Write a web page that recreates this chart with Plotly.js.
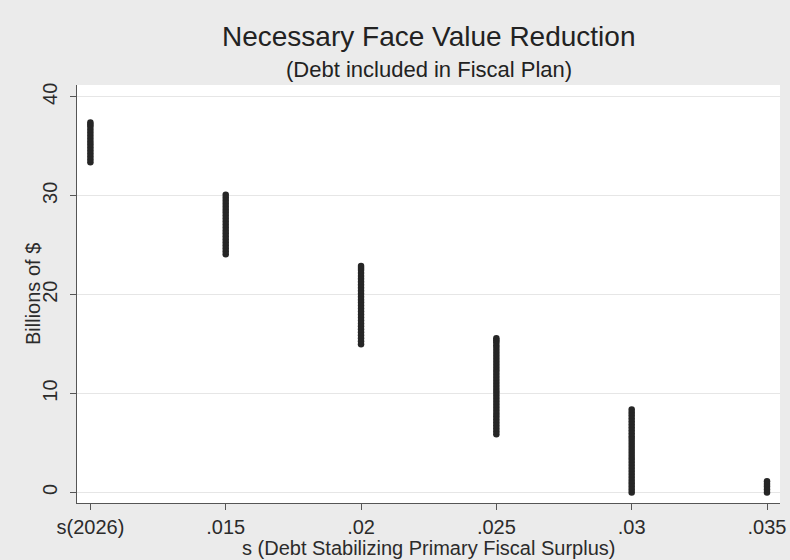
<!DOCTYPE html>
<html>
<head>
<meta charset="utf-8">
<script src="https://cdn.plot.ly/plotly-3.0.1.min.js"></script>
<style>html,body{margin:0;padding:0;background:#ebebeb;}#chart{width:790px;height:560px;}</style>
</head>
<body>
<div id="chart"></div>
<script>
// x positions (s values); s(2026) plotted at 0.01
var sValues = [0.01, 0.015, 0.02, 0.025, 0.03, 0.035];
var tickLabels = ["s(2026)", ".015", ".02", ".025", ".03", ".035"];

// Necessary face value reduction (billions of $)
var red_s2026 = [33.4, 33.7, 34.0, 34.3, 34.6, 34.9, 35.2, 35.5, 35.8, 36.1, 36.4, 36.7, 37.0, 37.2, 37.4];
var red_015 = [24.1, 24.4, 24.7, 25.0, 25.3, 25.6, 25.9, 26.2, 26.5, 26.8, 27.1, 27.4, 27.7, 28.0, 28.3, 28.6, 28.9, 29.2, 29.5, 29.8, 30.1];
var red_020 = [15.0, 15.3, 15.6, 15.9, 16.2, 16.5, 16.8, 17.1, 17.4, 17.7, 18.0, 18.3, 18.6, 18.9, 19.2, 19.5, 19.8, 20.1, 20.4, 20.7, 21.0, 21.3, 21.6, 21.9, 22.2, 22.5, 22.7, 22.9];
var red_025 = [5.9, 6.2, 6.5, 6.8, 7.1, 7.4, 7.7, 8.0, 8.3, 8.6, 8.9, 9.2, 9.5, 9.8, 10.1, 10.4, 10.7, 11.0, 11.3, 11.6, 11.9, 12.2, 12.5, 12.8, 13.1, 13.4, 13.7, 14.0, 14.3, 14.6, 14.9, 15.2, 15.4, 15.6];
var red_030 = [0.0, 0.3, 0.6, 0.9, 1.2, 1.5, 1.8, 2.1, 2.4, 2.7, 3.0, 3.3, 3.6, 3.9, 4.2, 4.5, 4.8, 5.1, 5.4, 5.7, 6.0, 6.3, 6.6, 6.9, 7.2, 7.5, 7.8, 8.1, 8.4];
var red_035 = [0.0, 0.3, 0.6, 0.85, 1.15];

var columns = [red_s2026, red_015, red_020, red_025, red_030, red_035];
var xs = [], ys = [];
columns.forEach(function (col, i) {
  col.forEach(function (v) { xs.push(sValues[i]); ys.push(v); });
});

var font = "Liberation Sans, Arial, Helvetica, sans-serif";
var trace = {
  type: "scatter", mode: "markers", x: xs, y: ys,
  marker: {size: 6.5, color: "#262626", line: {width: 0}},
  hoverinfo: "x+y", showlegend: false
};

var layout = {
  width: 790, height: 560,
  paper_bgcolor: "#ebebeb", plot_bgcolor: "#ffffff",
  margin: {l: 77, r: 10, t: 85, b: 57},
  font: {family: font, size: 20, color: "#2b2b2b"},
  showlegend: false,
  xaxis: {
    range: [0.009505, 0.03548], tickvals: sValues, ticktext: tickLabels,
    showgrid: false, zeroline: false, showline: true, linecolor: "#555555", linewidth: 1,
    ticks: "outside", ticklen: 6, tickcolor: "#555555", tickwidth: 1,
    tickfont: {size: 20, color: "#2b2b2b"}
  },
  yaxis: {
    range: [-1.06, 41.2], tickvals: [0, 10, 20, 30, 40], ticktext: ["0", "10", "20", "30", "40"],
    showgrid: true, gridcolor: "#e6e6e6", gridwidth: 1, zeroline: false,
    showline: true, linecolor: "#555555", linewidth: 1,
    ticks: "outside", ticklen: 6, tickcolor: "#555555", tickwidth: 1, ticklabelstandoff: 5,
    tickangle: -90, tickfont: {size: 20, color: "#2b2b2b"}
  },
  annotations: [
    {text: "Necessary Face Value Reduction", xref: "paper", yref: "paper", x: 0.5, y: 1.1172,
     xanchor: "center", yanchor: "middle", showarrow: false, font: {size: 28, color: "#222222"}},
    {text: "(Debt included in Fiscal Plan)", xref: "paper", yref: "paper", x: 0.5, y: 1.036,
     xanchor: "center", yanchor: "middle", showarrow: false, font: {size: 22, color: "#222222"}},
    {text: "s (Debt Stabilizing Primary Fiscal Surplus)", xref: "paper", yref: "paper", x: 0.5, y: -0.1077,
     xanchor: "center", yanchor: "middle", showarrow: false, font: {size: 20, color: "#2b2b2b"}},
    {text: "Billions of $", xref: "paper", yref: "paper", x: -0.0626, y: 0.5, textangle: -90,
     xanchor: "center", yanchor: "middle", showarrow: false, font: {size: 20, color: "#2b2b2b"}}
  ]
};

Plotly.newPlot("chart", [trace], layout, {displayModeBar: false, staticPlot: true});
</script>
</body>
</html>
